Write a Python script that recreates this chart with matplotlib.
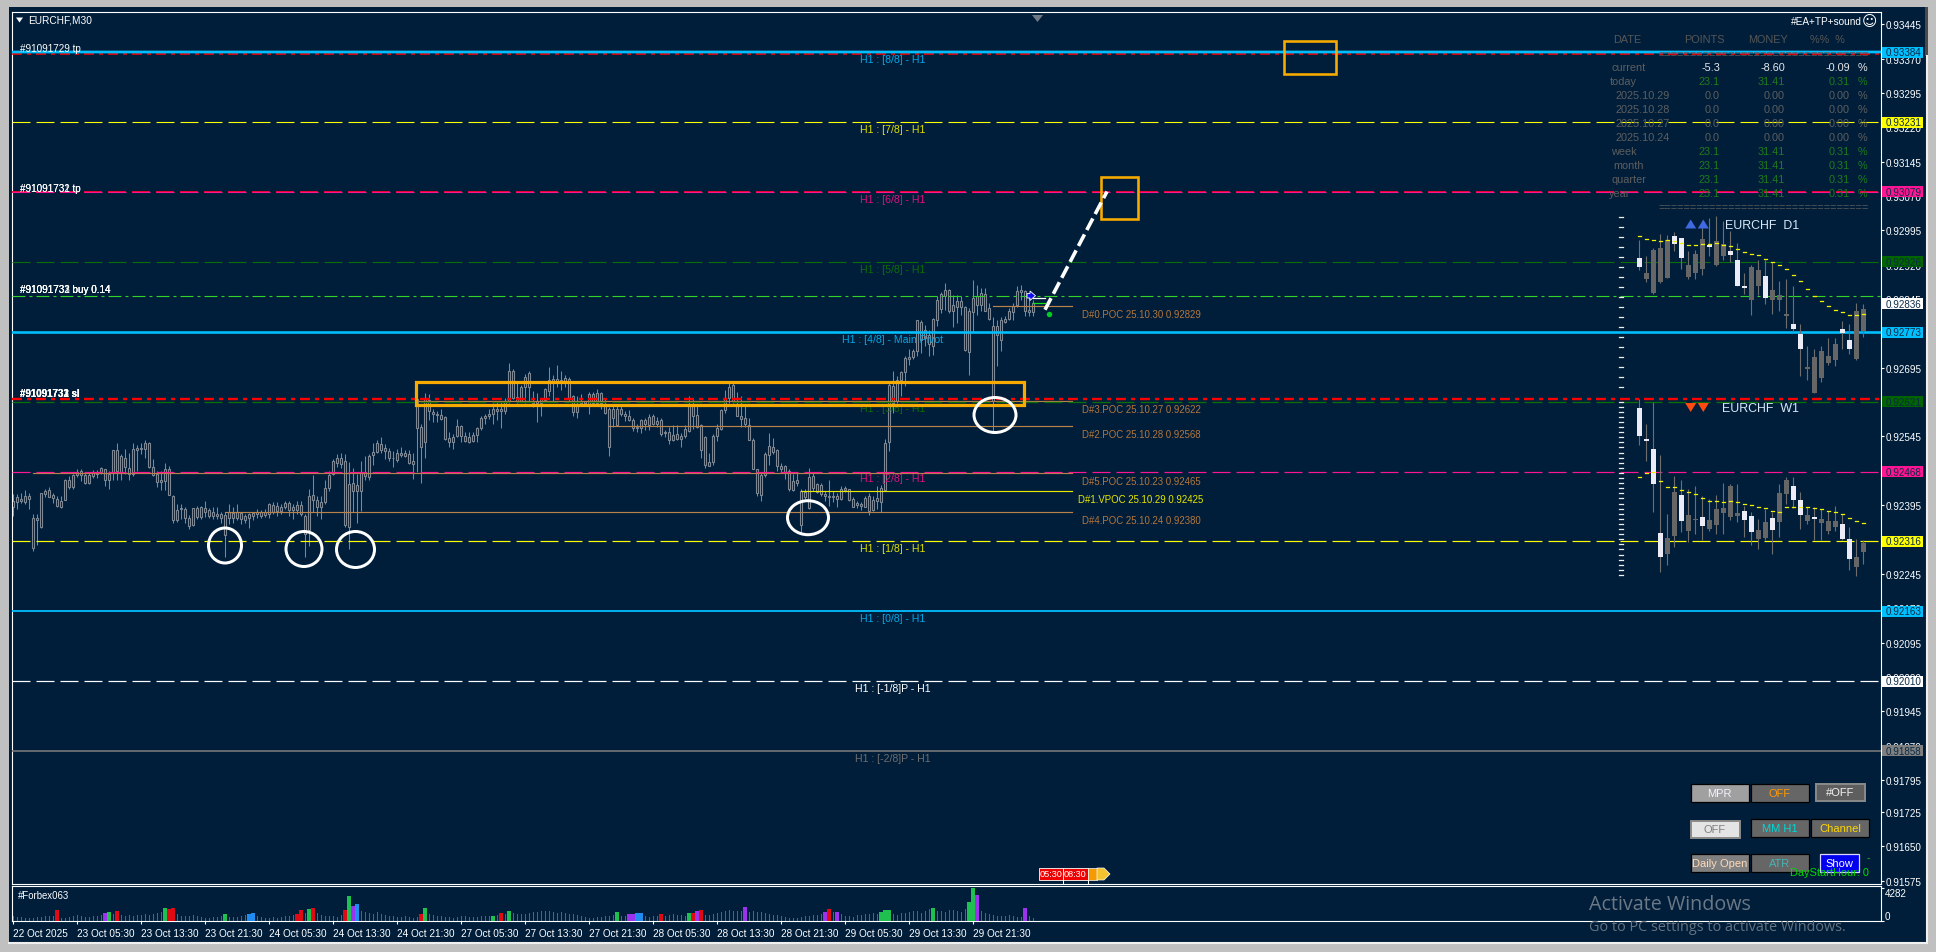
import numpy as np
import matplotlib
matplotlib.use("Agg")
import matplotlib.pyplot as plt
from matplotlib.patches import Rectangle, Ellipse, Polygon

plt.rcParams['font.family'] = ['Liberation Sans', 'DejaVu Sans']
plt.rcParams['lines.scale_dashes'] = False

W, H = 1936, 953
BG = '#001E3A'

# M30 candles: values are the last digits of the quote, 0.9 + v/100000
body_top = [2404,2412,2409,2414,2414,2368,2368,2421,2426,2428,
 2417,2409,2405,2450,2449,2460,2468,2470,2460,2460,
 2468,2468,2477,2475,2462,2515,2515,2502,2498,2477,
 2517,2520,2520,2531,2531,2479,2462,2449,2473,2475,
 2416,2384,2388,2386,2368,2388,2388,2390,2388,2384,
 2379,2375,2375,2373,2379,2378,2379,2377,2372,2375,
 2378,2381,2381,2381,2397,
 2396,2393,2391,2399,2400,2392,2396,2396,
 2371,2416,2417,2406,2401,2432,2461,
 2492,2498,2498,2491,2441,2443,2439,2468,2467,2503,
 2512,2530,2529,2520,2514,2499,2508,2508,2509,2507,
 2491,2627,2565,2626,2625,2599,2594,2592,2587,2542,
 2543,2567,2567,2547,2543,2548,2563,2585,2590,2595,
 2605,2605,2605,2623,2689,2689,2632,2654,2674,2683,
 2623,2623,2628,2649,2669,2670,2670,2669,2672,2670,
 2633,2616,2623,2623,2638,2638,2640,2640,2612,2605,
 2605,2606,2606,2595,2589,2581,2566,2580,2580,2587,
 2590,2578,2581,2555,2554,2548,2550,2545,2561,2612,
 2612,2592,2570,2543,2489,2545,2563,2603,2630,2654,
 2657,2612,2590,2585,2571,2537,2473,2461,2507,2524,
 2521,2515,2480,2480,2470,2448,2450,2425,2424,2457,
 2459,2441,2439,2419,2415,2415,2415,2431,2433,2430,
 2408,2399,2397,2410,2415,2407,2410,2433,2531,2658,
 2656,2669,2685,2717,2719,2731,2799,2795,2778,2767,
 2802,2844,2857,2865,2865,2833,2840,2840,2828,2818,
 2847,2852,2858,2857,2825,2787,2787,2800,2802,2818,
 2829,2862,2864,2862,2822,2836]
body_bot = [2390,2402,2404,2401,2409,2301,2363,2348,2419,2413,
 2411,2393,2391,2407,2435,2435,2461,2460,2443,2443,
 2459,2464,2468,2450,2451,2468,2470,2466,2479,2462,
 2464,2515,2517,2517,2479,2460,2446,2446,2448,2417,
 2363,2362,2386,2368,2350,2351,2370,2370,2379,2372,
 2372,2372,2366,2330,2366,2368,2366,2365,2363,2367,
 2372,2376,2372,2373,2375,
 2380,2382,2382,2392,2385,2385,2385,2375,
 2331,2341,2407,2390,2390,2403,2432,
 2462,2487,2485,2351,2347,2427,2425,2425,2458,2456,
 2505,2512,2516,2514,2497,2498,2494,2505,2503,2487,
 2484,2563,2521,2532,2601,2594,2592,2583,2539,2534,
 2534,2545,2545,2536,2534,2536,2548,2563,2585,2589,
 2595,2600,2600,2601,2623,2630,2623,2623,2652,2654,
 2619,2619,2619,2625,2645,2667,2667,2667,2667,2630,
 2598,2598,2619,2619,2616,2619,2619,2619,2596,2521,
 2585,2569,2595,2590,2581,2563,2563,2564,2572,2571,
 2572,2572,2550,2553,2538,2538,2540,2540,2547,2558,
 2590,2565,2516,2483,2481,2490,2545,2561,2603,2628,
 2623,2589,2583,2572,2538,2474,2421,2418,2461,2505,
 2512,2480,2474,2468,2430,2428,2444,2351,2412,2388,
 2433,2424,2419,2415,2413,2413,2408,2408,2428,2406,
 2392,2395,2394,2392,2383,2385,2404,2402,2428,2533,
 2619,2622,2669,2685,2714,2719,2731,2755,2760,2746,
 2742,2800,2823,2852,2818,2818,2827,2827,2733,2729,
 2816,2833,2833,2818,2802,2622,2766,2755,2794,2802,
 2816,2831,2860,2820,2816,2816]
highs = [2419,2419,2422,2428,2422,2375,2375,2421,2431,2435,
 2422,2415,2414,2453,2459,2462,2473,2473,2467,2466,
 2472,2472,2479,2475,2470,2515,2531,2506,2517,2508,
 2530,2527,2531,2537,2532,2496,2470,2470,2486,2480,
 2417,2397,2397,2390,2373,2389,2393,2393,2404,2388,
 2390,2391,2379,2379,2397,2390,2397,2379,2375,2378,
 2380,2386,2385,2386,2399,
 2403,2403,2398,2405,2405,2398,2405,2405,
 2376,2431,2460,2414,2414,2451,2470,
 2496,2507,2509,2507,2489,2476,2463,2492,2503,2507,
 2531,2537,2543,2529,2519,2514,2518,2521,2516,2516,
 2508,2641,2572,2641,2638,2606,2601,2605,2590,2554,
 2550,2583,2570,2554,2555,2555,2565,2590,2594,2605,
 2619,2621,2623,2628,2705,2692,2663,2657,2681,2688,
 2645,2639,2628,2650,2696,2679,2701,2688,2680,2674,
 2635,2633,2638,2623,2643,2643,2649,2643,2628,2609,
 2614,2612,2612,2601,2603,2585,2572,2583,2585,2594,
 2593,2587,2585,2560,2565,2570,2569,2553,2569,2633,
 2630,2616,2572,2545,2509,2550,2572,2605,2647,2662,
 2665,2643,2633,2611,2585,2541,2474,2468,2512,2553,
 2542,2518,2487,2483,2473,2462,2465,2430,2430,2477,
 2465,2444,2444,2426,2449,2426,2421,2437,2437,2431,
 2412,2404,2401,2415,2421,2415,2437,2439,2540,2662,
 2688,2678,2688,2720,2736,2736,2800,2799,2789,2778,
 2804,2851,2860,2881,2867,2855,2855,2852,2829,2826,
 2887,2876,2869,2869,2836,2806,2800,2806,2807,2825,
 2836,2873,2876,2864,2855,2842]
lows = [2372,2386,2399,2397,2386,2294,2308,2346,2412,2412,
 2399,2390,2388,2406,2431,2430,2457,2448,2441,2441,
 2454,2455,2462,2437,2430,2450,2451,2451,2462,2450,
 2459,2470,2506,2498,2477,2459,2435,2428,2428,2417,
 2356,2359,2365,2357,2344,2350,2365,2365,2370,2366,
 2365,2365,2357,2281,2354,2357,2363,2354,2357,2345,
 2363,2368,2366,2370,2368,
 2376,2372,2376,2387,2372,2364,2376,2372,
 2281,2306,2381,2372,2365,2398,2427,
 2460,2478,2476,2347,2300,2380,2356,2383,2451,2451,
 2483,2509,2510,2496,2492,2479,2489,2500,2500,2484,
 2452,2467,2444,2497,2580,2577,2577,2582,2537,2521,
 2518,2543,2532,2534,2531,2532,2532,2560,2572,2583,
 2572,2580,2563,2594,2619,2627,2619,2621,2619,2623,
 2609,2576,2589,2621,2633,2621,2652,2647,2652,2621,
 2589,2585,2616,2616,2594,2618,2618,2605,2594,2503,
 2565,2567,2589,2579,2578,2556,2554,2553,2560,2560,
 2569,2566,2545,2543,2529,2536,2537,2523,2541,2555,
 2561,2563,2498,2476,2480,2483,2536,2560,2596,2619,
 2619,2589,2565,2565,2537,2473,2414,2405,2456,2483,
 2507,2470,2467,2452,2425,2426,2437,2332,2408,2386,
 2426,2421,2415,2404,2394,2401,2392,2407,2424,2404,
 2390,2388,2385,2390,2373,2383,2386,2379,2426,2513,
 2597,2619,2633,2655,2702,2714,2720,2727,2742,2720,
 2722,2786,2815,2822,2815,2784,2793,2811,2731,2680,
 2775,2811,2818,2818,2799,2557,2698,2731,2793,2800,
 2800,2828,2844,2807,2807,2807]

volumes = [560,520,430,380,350,400,480,430,560,620,600,470,380,400,520,600,
 680,640,520,430,600,560,700,800,760,900,820,700,640,720,660,700,
 760,820,780,900,1000,1120,1050,980,1100,820,640,560,600,700,620,520,
 420,360,480,520,620,700,540,470,520,650,700,760,720,560,470,400,
 380,450,420,520,640,580,700,760,880,1000,1240,1320,980,720,640,560,
 600,520,700,900,1300,1500,1400,1260,1150,1050,900,1120,880,760,620,560,
 520,480,560,500,420,480,600,720,880,760,640,560,500,480,420,520,
 580,600,520,480,540,620,560,580,640,700,780,900,1100,1000,920,860,
 880,1020,1100,1180,1250,1200,1280,1160,1060,1120,1060,900,880,760,620,500,
 420,380,440,520,580,640,720,780,640,620,560,500,620,700,640,520,
 560,640,700,660,780,900,800,760,600,640,700,800,920,800,700,880,
 1000,1120,1220,1340,1280,1200,1320,1500,1160,1240,1100,1180,1000,860,780,700,
 620,520,420,380,420,480,560,620,700,760,900,1000,1140,1080,900,820,
 640,560,520,700,760,820,880,1000,900,1000,1120,1020,880,760,960,1040,
 1140,1220,1280,1020,1300,1460,1500,1240,1300,1180,1340,1420,1260,1120,1480,1800,
 2000,1900,1300,1040,880,720,640,560,620,700,640,520,480,560,640,340]

spike_bars = [11,23,24,26,38,39,40,53,59,60,71,72,74,75,83,84,85,86,102,103,120,122,124,
 151,154,155,156,157,162,169,170,171,172,183,203,204,206,217,218,219,230,239,240,241,253]
spike_vols = [1430,1030,1115,1290,1700,1560,1700,890,890,1030,890,1340,1560,1700,1340,3210,1960,2100,890,1700,620,980,1290,
 1160,850,850,1030,1030,890,1030,1030,1290,1430,1830,1160,1560,1160,1160,1430,1430,1700,2370,4282,3300,1700]
spike_kind = list("rpgr" "grr" "g" "bb" "rrgr" "rgpb" "rg" "grg"
 "g" "pp" "bb" "r" "grpr" "p" "prp" "ggg" "g" "ggp" "p")

time_labels = ['22 Oct 2025','23 Oct 05:30','23 Oct 13:30','23 Oct 21:30','24 Oct 05:30','24 Oct 13:30',
 '24 Oct 21:30','27 Oct 05:30','27 Oct 13:30','27 Oct 21:30','28 Oct 05:30','28 Oct 13:30',
 '28 Oct 21:30','29 Oct 05:30','29 Oct 13:30','29 Oct 21:30']
price_ticks = [0.93445,0.93370,0.93295,0.93220,0.93145,0.93070,0.92995,0.92920,0.92845,0.92770,0.92695,
 0.92620,0.92545,0.92470,0.92395,0.92320,0.92245,0.92170,0.92095,0.92020,0.91945,0.91870,0.91795,
 0.91725,0.91650,0.91575]

# Murrey-math levels
level_prices = [0.93384,0.93231,0.93079,0.92926,0.92773,0.92621,0.92468,0.92316,0.92163,0.92010,0.91858]
level_names = ['H1 : [8/8] - H1','H1 : [7/8] - H1','H1 : [6/8] - H1','H1 : [5/8] - H1','H1 : [4/8] - Main Pivot',
 'H1 : [3/8] - H1','H1 : [2/8] - H1','H1 : [1/8] - H1','H1 : [0/8] - H1','H1 : [-1/8]P - H1','H1 : [-2/8]P - H1']
level_colors = ['#00BFFF','#FFFF00','#FF1493','#0A6E0A','#00BFFF','#0A6E0A','#FF1493','#FFFF00','#00BFFF','#FFFFFF','#7A7A7A']
level_text_colors = ['#00A8E8','#E0E000','#E0107F','#0A6E0A','#00A8E8','#0A6E0A','#E0107F','#E0E000','#00A8E8','#FFFFFF','#6E6E6E']
level_styles = ['solid','dash','dash','dash','solid','dash','dash','dash','solid','dash','solid']
level_widths = [2.4,1.1,1.1,1.1,2.6,1.3,1.2,1.2,1.8,1.2,1.6]

# order lines
order_prices = [0.93381,0.93079,0.92852,0.92626]
order_colors = ['#FF0000','#FF0030','#32D22A','#FF0000']
order_widths = [1.6,1.8,1.1,2.4]

# POC lines
poc_names = ['D#0.POC 25.10.30 0.92829','D#3.POC 25.10.27 0.92622','D#2.POC 25.10.28 0.92568',
 'D#5.POC 25.10.23 0.92465','D#1.VPOC 25.10.29 0.92425','D#4.POC 25.10.24 0.92380']
poc_prices = [0.92829,0.92622,0.92568,0.92465,0.92425,0.92380]
poc_start = [245,101,149,5,197,53]
poc_colors = ['#B88248','#B88248','#B88248','#B88248','#E8E800','#B88248']
poc_text = ['#B5763C','#B5763C','#B5763C','#B5763C','#E8E800','#B5763C']

# mini D1 candles (same price scale)
d1_top = [2935,2903,2953,2957,2974,2983,2979,2919,2944,2977,2964,2972,2966,2951,2931,2874,2916,2909,2896,2864,2855,2813,2790,2768,2696,2718,2731,2720,2746,2779,2755,2818,2824]
d1_bot = [2914,2888,2859,2882,2892,2966,2935,2893,2901,2911,2958,2920,2938,2941,2874,2870,2842,2874,2848,2842,2842,2807,2779,2737,2692,2639,2672,2705,2711,2770,2735,2715,2776]
d1_high = [2975,2940,2957,2988,2986,2991,2979,2951,2953,3015,3022,3027,3015,2993,2967,2902,2920,2931,2931,2927,2884,2888,2874,2791,2742,2735,2742,2760,2760,2798,2790,2837,2835]
d1_low = [2909,2882,2857,2880,2890,2949,2911,2888,2888,2897,2938,2917,2931,2927,2874,2857,2811,2855,2835,2813,2820,2782,2773,2678,2668,2639,2665,2702,2699,2735,2726,2711,2762]
d1_kind = "wgggg" "wwgg" "g" "wgg" "wwwg" "gwggg" "wwg" "ggg" "gwwgg"
d1_ma = [2983,2976,2973,2972,2974,2972,2967,2964,2963,2965,2966,2967,2962,2961,2954,2948,2944,2941,2932,2926,2920,2911,2898,2885,2867,2852,2841,2829,2822,2817,2811,2811,2813]

# mini W1 candles
w1_top = [2607,2539,2517,2334,2323,2424,2417,2374,2365,2369,2363,2387,2389,2437,2378,2382,2371,2341,2358,2367,2421,2450,2437,2406,2374,2369,2365,2360,2360,2354,2321,2282,2313]
w1_bot = [2546,2535,2441,2282,2289,2328,2360,2339,2363,2350,2343,2352,2378,2369,2371,2363,2336,2321,2323,2341,2358,2419,2406,2374,2360,2365,2356,2339,2347,2321,2278,2260,2293]
w1_high = [2626,2572,2621,2504,2376,2459,2450,2430,2437,2414,2408,2417,2443,2441,2441,2394,2379,2365,2387,2379,2441,2456,2457,2423,2390,2390,2387,2383,2394,2376,2347,2321,2318]
w1_low = [2527,2492,2381,2250,2265,2304,2337,2314,2332,2319,2339,2332,2332,2363,2358,2325,2308,2299,2318,2289,2325,2397,2388,2342,2354,2318,2318,2332,2339,2318,2254,2240,2267]
w1_kind = "www" "wg" "gwgg" "wg" "gggg" "wwgg" "wggwwg" "wg" "gg" "wwgg"
w1_ma = [2456,2465,2468,2447,2435,2435,2429,2423,2419,2410,2405,2405,2403,2405,2403,2398,2395,2391,2388,2382,2381,2392,2392,2392,2390,2388,2387,2383,2381,2375,2366,2360,2355]

# account table
table_rows = ['current','today','2025.10.29','2025.10.28','2025.10.27','2025.10.24','week','month','quarter','year']
table_points = ['-5.3','23.1','0.0','0.0','0.0','0.0','23.1','23.1','23.1','23.1']
table_money = ['-8.60','31.41','0.00','0.00','0.00','0.00','31.41','31.41','31.41','31.41']
table_pct = ['-0.09','0.31','0.00','0.00','0.00','0.00','0.31','0.31','0.31','0.31']


def q(values):
    return 0.9 + np.asarray(values, dtype=float) / 1e5

def px_rect(x0, y0, x1, y1):
    return [x0 / W, 1 - y1 / H, (x1 - x0) / W, (y1 - y0) / H]

PT = 0.72  # points per pixel at dpi 100
fig = plt.figure(figsize=(W / 100, H / 100), dpi=100, facecolor='#C0C0C0')

# backdrop
bg = fig.add_axes([0, 0, 1, 1], zorder=0)
bg.set_xlim(0, W); bg.set_ylim(H, 0); bg.axis('off')
bg.add_patch(Rectangle((9, 8), 1918, 935, fc=BG, ec='none'))
bg.plot([9, 1926.5], [943.5, 943.5], color='#F0F0F0', lw=1.5)
bg.plot([1926.5, 1926.5], [57, 943.5], color='#F0F0F0', lw=1.5)
bg.add_patch(Rectangle((1924.5, 8), 3.5, 49, fc='#4A4A4A', ec='none'))

# main chart
X0, X1, Y0, Y1 = 12, 1880.5, 12.5, 885
ax = fig.add_axes(px_rect(X0, Y0, X1, Y1), zorder=2, facecolor='none')
ax.set_xlim((X0 - 13) / 4, (X1 - 13) / 4)
k = 45797.0
ax.set_ylim(0.93445 - (Y1 - 25.3) / k, 0.93445 + (25.3 - Y0) / k)
for s in ax.spines.values():
    s.set_color('white'); s.set_linewidth(0.8)
ax.yaxis.tick_right()
ax.set_yticks(price_ticks)
ax.set_yticklabels([f'{v:.5f}' for v in price_ticks])
ax.tick_params(axis='y', colors='white', length=2.2, width=0.8, pad=1.4, labelsize=7.1)
ax.set_xticks([])

xs = np.arange(len(highs))
GREY = '#7E8794'
ax.vlines(xs, q(lows), q(highs), color=GREY, lw=0.75, zorder=2)
ax.bar(xs, q(body_top) - q(body_bot), bottom=q(body_bot), width=0.5, fc=BG, ec=GREY, lw=0.8, zorder=2.2)

dash = (0, (18 * PT, 6 * PT))
dashdot = (0, (10 * PT, 5 * PT, 4 * PT, 5 * PT))
for p, c, st, w, name, tc in zip(level_prices, level_colors, level_styles, level_widths, level_names, level_text_colors):
    ax.axhline(p, color=c, lw=w * PT, ls=('-' if st == 'solid' else dash), zorder=3, dash_capstyle='butt')
    ax.annotate(name, (220, p), xytext=(0, -6.6 * PT), textcoords='offset points', ha='center', va='center',
                color=tc, fontsize=7.6, zorder=6)

order_ls = [dashdot, dash, (0, (13 * PT, 4 * PT, 3 * PT, 4 * PT)), dashdot]
for p, c, w, ls in zip(order_prices, order_colors, order_widths, order_ls):
    ax.axhline(p, color=c, lw=w * PT, ls=ls, zorder=2.9, dash_capstyle='butt')
# the cyan [8/8] level stays on top of the red take-profit dash
ax.axhline(level_prices[0], color='#00BFFF', lw=2.4 * PT, zorder=3.1)

poc_end = (1072 - 13) / 4
for name, p, s, c, tc in zip(poc_names, poc_prices, poc_start, poc_colors, poc_text):
    ax.plot([s, poc_end], [p, p], color=c, lw=0.85, zorder=2.8)
    xt = (1078 - 13) / 4 if 'VPOC' in name else (1082 - 13) / 4
    ax.annotate(name, (xt, p), xytext=(0, -8 * PT), textcoords='offset points', ha='left', va='center',
                color=tc, fontsize=6.9, zorder=6)

# mini D1 / W1 candles share the price scale, in a layer of their own along x
mini = fig.add_axes(px_rect(X0, Y0, X1, Y1), zorder=3, facecolor='none')
mini.set_xlim(0, (X1 - X0) / 7)
mini.set_ylim(ax.get_ylim())
mini.axis('off')
mini_x0 = (1639.3 - X0) / 7
KCOL = {'w': '#ECECF8', 'g': '#666666'}
for top, bot, hi, lo, kinds, ma in ((d1_top, d1_bot, d1_high, d1_low, d1_kind, d1_ma),
                                    (w1_top, w1_bot, w1_high, w1_low, w1_kind, w1_ma)):
    mx = mini_x0 + np.arange(len(top))
    cols = [KCOL[c] for c in kinds]
    mini.vlines(mx, q(lo), q(hi), color='#6E6E6E', lw=0.8, zorder=2)
    mini.bar(mx, q(top) - q(bot), bottom=q(bot), width=0.72, color=cols, zorder=3)
    for xi, m in zip(mx, ma):
        mini.plot([xi - 0.2, xi + 0.2], [q(m), q(m)], color='#F2F200', lw=0.9, zorder=4)

# volume panel
sub = fig.add_axes(px_rect(X0, 887, X1, 922), zorder=2, facecolor='none')
sub.set_xlim(ax.get_xlim())
sub.set_ylim(-30, 4480)
for s in sub.spines.values():
    s.set_color('white'); s.set_linewidth(0.8)
sub.bar(xs, volumes, width=0.25, color='#5A5A96', zorder=2)
VCOL = {'r': '#E00A14', 'g': '#1FC050', 'p': '#9A32EE', 'b': '#1E8CF0'}
sub.bar(spike_bars, spike_vols, width=0.9, color=[VCOL[c] for c in spike_kind], zorder=3)
sub.set_xticks(np.arange(len(time_labels)) * 16)
sub.set_xticklabels(time_labels, ha='left')
sub.tick_params(axis='x', colors='white', length=2.4, width=0.8, pad=3.0, labelsize=7.2)
sub.yaxis.tick_right()
sub.set_yticks([0, 4282])
sub.set_yticklabels(['0', '4282'])
sub.tick_params(axis='y', colors='white', length=2, width=0.8, pad=1, labelsize=7.1)
sub.get_yticklabels()[0].set_va('bottom')
sub.get_yticklabels()[1].set_va('top')

# overlay in screen pixels
ov = fig.add_axes([0, 0, 1, 1], zorder=5, facecolor='none')
ov.set_xlim(0, W); ov.set_ylim(H, 0); ov.axis('off')

def T(x, y, s, color='white', size=6.7, ha='left', **kw):
    ov.text(x, y, s, color=color, fontsize=size, ha=ha, va='center', **kw)

# title and order tags
ov.add_patch(Polygon([(16, 18.5), (23, 18.5), (19.5, 23.5)], fc='white', ec='none'))
T(28, 20.5, 'EURCHF,M30', size=7.3)
ov.add_patch(Polygon([(1032, 16), (1043, 16), (1037.5, 23)], fc='#6F7A86', ec='none'))
T(19.5, 48.5, '#91091729 tp', size=7.1)
for tag in ('#91091731 tp', '#91091732 tp'):
    T(19.5, 189, tag, size=7.1)
for tag in ('#91091731 buy 0.14', '#91091732 buy 0.14', '#91091733 buy 0.14'):
    T(19.5, 290.5, tag, size=7.1)
for dx, tag in ((0, '#91091731 sl'), (0.6, '#91091732 sl'), (0, '#91091733 sl')):
    T(19.5 + dx, 394, tag, size=7.0, fontweight='bold')

# annotations
ORANGE = '#F7AA00'
for (x0, y0, x1, y1), lw in (((415.5, 382.5, 1024, 405.5), 3.2), ((1284, 42, 1336, 75), 2.6), ((1101, 178, 1138, 220), 2.6)):
    ov.add_patch(Rectangle((x0, y0), x1 - x0, y1 - y0, fc='none', ec=ORANGE, lw=lw * PT, zorder=3))
for cx, cy, ew, eh in ((225, 546.5, 33, 35), (304, 550, 36, 35), (355.5, 550.5, 38, 36), (808, 518.7, 41, 34), (995, 416, 42, 35)):
    ov.add_patch(Ellipse((cx, cy), ew, eh, fc='none', ec='white', lw=3 * PT, zorder=3))
ov.plot([1045, 1107], [310.7, 192.5], color='white', lw=3.6 * PT, ls=(0, (13 * PT, 5 * PT)), zorder=4, dash_capstyle='butt')
ov.plot([1049], [315], 'o', color='#00D020', ms=5.4 * PT, mec='none', zorder=4)
ov.plot([1033, 1045], [299.3, 299.3], color='white', lw=0.9, zorder=4)
ov.plot([1033, 1045], [304.3, 304.3], color='#10E010', lw=0.9, zorder=4)
ov.add_patch(Polygon([(1027, 294.5), (1030, 294.5), (1030, 292), (1035.5, 296.7), (1030, 301.5), (1030, 299), (1027, 299)],
                     fc='#1010F0', ec='white', lw=0.6, zorder=5))

# price tags
tag_prices = ['0.93384','0.93231','0.93079','0.92926','0.92836','0.92773','0.92621','0.92468','0.92316','0.92163','0.92010','0.91858']
tag_y = [53, 123, 192.5, 262.8, 304.5, 333, 402.7, 472.5, 542, 612, 682, 751.5]
tag_bg = ['#00BFFF','#FFFF00','#FF1493','#006400','#FFFFFF','#00BFFF','#006400','#FF1493','#FFFF00','#00BFFF','#FFFFFF','#808080']
for s, y, c in zip(tag_prices, tag_y, tag_bg):
    ov.add_patch(Rectangle((1882, y - 5.5), 41, 11, fc=c, ec='none', zorder=6))
    T(1885.5, y + 0.2, s, color='#0A2A44', size=7.1, zorder=7)

# table
HDR = '#565656'
T(1627, 40, 'DATE', HDR, 7.8, 'center')
T(1704, 40, 'POINTS', HDR, 7.8, 'center')
T(1768, 40, 'MONEY', HDR, 7.8, 'center')
T(1827, 40, '%%  %', HDR, 7.8, 'center')
row_y = [68.3, 82.3, 96.3, 110.3, 124.3, 138.3, 152.3, 166.3, 180.3, 194.3]
row_cx = [1629, 1623, 1643, 1643, 1643, 1643, 1624, 1628.5, 1628.5, 1620]
for name, yy, cx, a, b, c in zip(table_rows, row_y, row_cx, table_points, table_money, table_pct):
    if name == 'current':
        col = '#E8E8E8'
    elif a == '0.0':
        col = '#5E5E5E'
    else:
        col = '#1E7A1E'
    T(cx, yy, name, '#5E5E5E', 7.8, 'center')
    T(1720, yy, a, col, 7.8, 'right')
    T(1785, yy, b, col, 7.8, 'right')
    T(1850, yy, c, col, 7.8, 'right')
    T(1862, yy, '%', col, 7.8, 'center')
T(1658, 54.8, '=' * 33, '#5A5A5A', 7.8)
T(1658, 208.3, '=' * 33, '#5A5A5A', 7.8)
T(1861.7, 21.7, '#EA+TP+sound', 'white', 7.2, 'right')
T(1869.5, 21.7, '\u263A', 'white', 10.5, 'center', family='DejaVu Sans')

# mini chart labels
for yy in np.arange(218, 390, 10):
    ov.plot([1619, 1623], [yy, yy], color='#F0F0F0', lw=0.9)
for yy in np.arange(402.5, 576, 5.1):
    ov.plot([1619, 1623], [yy, yy], color='#F0F0F0', lw=0.9)
for cx in (1690.7, 1703.3):
    ov.add_patch(Polygon([(cx - 5.5, 229.5), (cx + 5.5, 229.5), (cx, 220.5)], fc='#4169E1', ec='none'))
    ov.add_patch(Polygon([(cx - 5.5, 404), (cx + 5.5, 404), (cx, 413)], fc='#FF4A10', ec='none'))
T(1799, 225.7, 'EURCHF  D1', '#D8E8F8', 8.9, 'right')
T(1799, 409.3, 'EURCHF  W1', '#D8E8F8', 8.9, 'right')

# buttons
def button(x0, y0, x1, y1, text, fc, tc, ec='black', lw=0.9):
    ov.add_patch(Rectangle((x0, y0), x1 - x0, y1 - y0, fc=fc, ec=ec, lw=lw))
    T((x0 + x1) / 2, (y0 + y1) / 2, text, tc, 8.0, 'center')

button(1690.7, 785, 1749, 803.3, 'MPR', '#A0A0A0', '#F2F2FF')
button(1750.7, 785, 1809.3, 803.3, 'OFF', '#666666', '#FF9900')
button(1815.5, 785, 1865, 801.5, '#OFF', '#5E5E5E', '#F2F2F2', ec='#8A8A8A', lw=1.4)
button(1690.5, 822, 1739.5, 838.5, 'OFF', '#E4E4E4', '#808080', ec='#8A8A8A', lw=1.4)
button(1750.7, 819.7, 1809.3, 838.3, 'MM H1', '#666666', '#00D8D8')
button(1810.7, 819.7, 1869.3, 838.3, 'Channel', '#666666', '#FFD700')
button(1690.7, 855, 1749, 873.3, 'Daily Open', '#808080', '#FFDAB9')
button(1750.7, 855, 1809.3, 873.3, 'ATR', '#666666', '#48B4B4')
button(1820.3, 855, 1859.3, 873.3, 'Show', '#0000EE', '#FFFFFF', ec='#D8D8FF')
T(1868, 858, '-', '#00D800', 7.4, 'center')
T(1869.3, 873, 'DayStartHour: 0', '#00D800', 7.9, 'right')

# time tags
for x0, x1, s, c in ((1039, 1063, '05:30', '#F00000'), (1063, 1088, '08:30', '#F00000')):
    ov.add_patch(Rectangle((x0, 869), x1 - x0, 12, fc=c, ec='white', lw=0.6))
    T((x0 + x1) / 2, 875, s, 'white', 6.6, 'center')
    ov.plot([x1, x1], [881, 884.5], color='white', lw=0.7)
ov.add_patch(Rectangle((1088, 869), 9, 12, fc='#F59A00', ec='white', lw=0.5))
ov.add_patch(Polygon([(1097, 869), (1104, 869), (1110, 875), (1104, 881), (1097, 881)], fc='#F2C230', ec='white', lw=0.5))

T(17.5, 895.7, '#Forbex063', 'white', 6.9)

# OS watermark
T(1589, 905, 'Activate Windows', '#6B7886', 14.2, family='Open Sans')
T(1589, 928, 'Go to PC settings to activate Windows.', '#66727F', 10.4, family='Open Sans')

fig.savefig('out.png', dpi=100, facecolor=fig.get_facecolor())
